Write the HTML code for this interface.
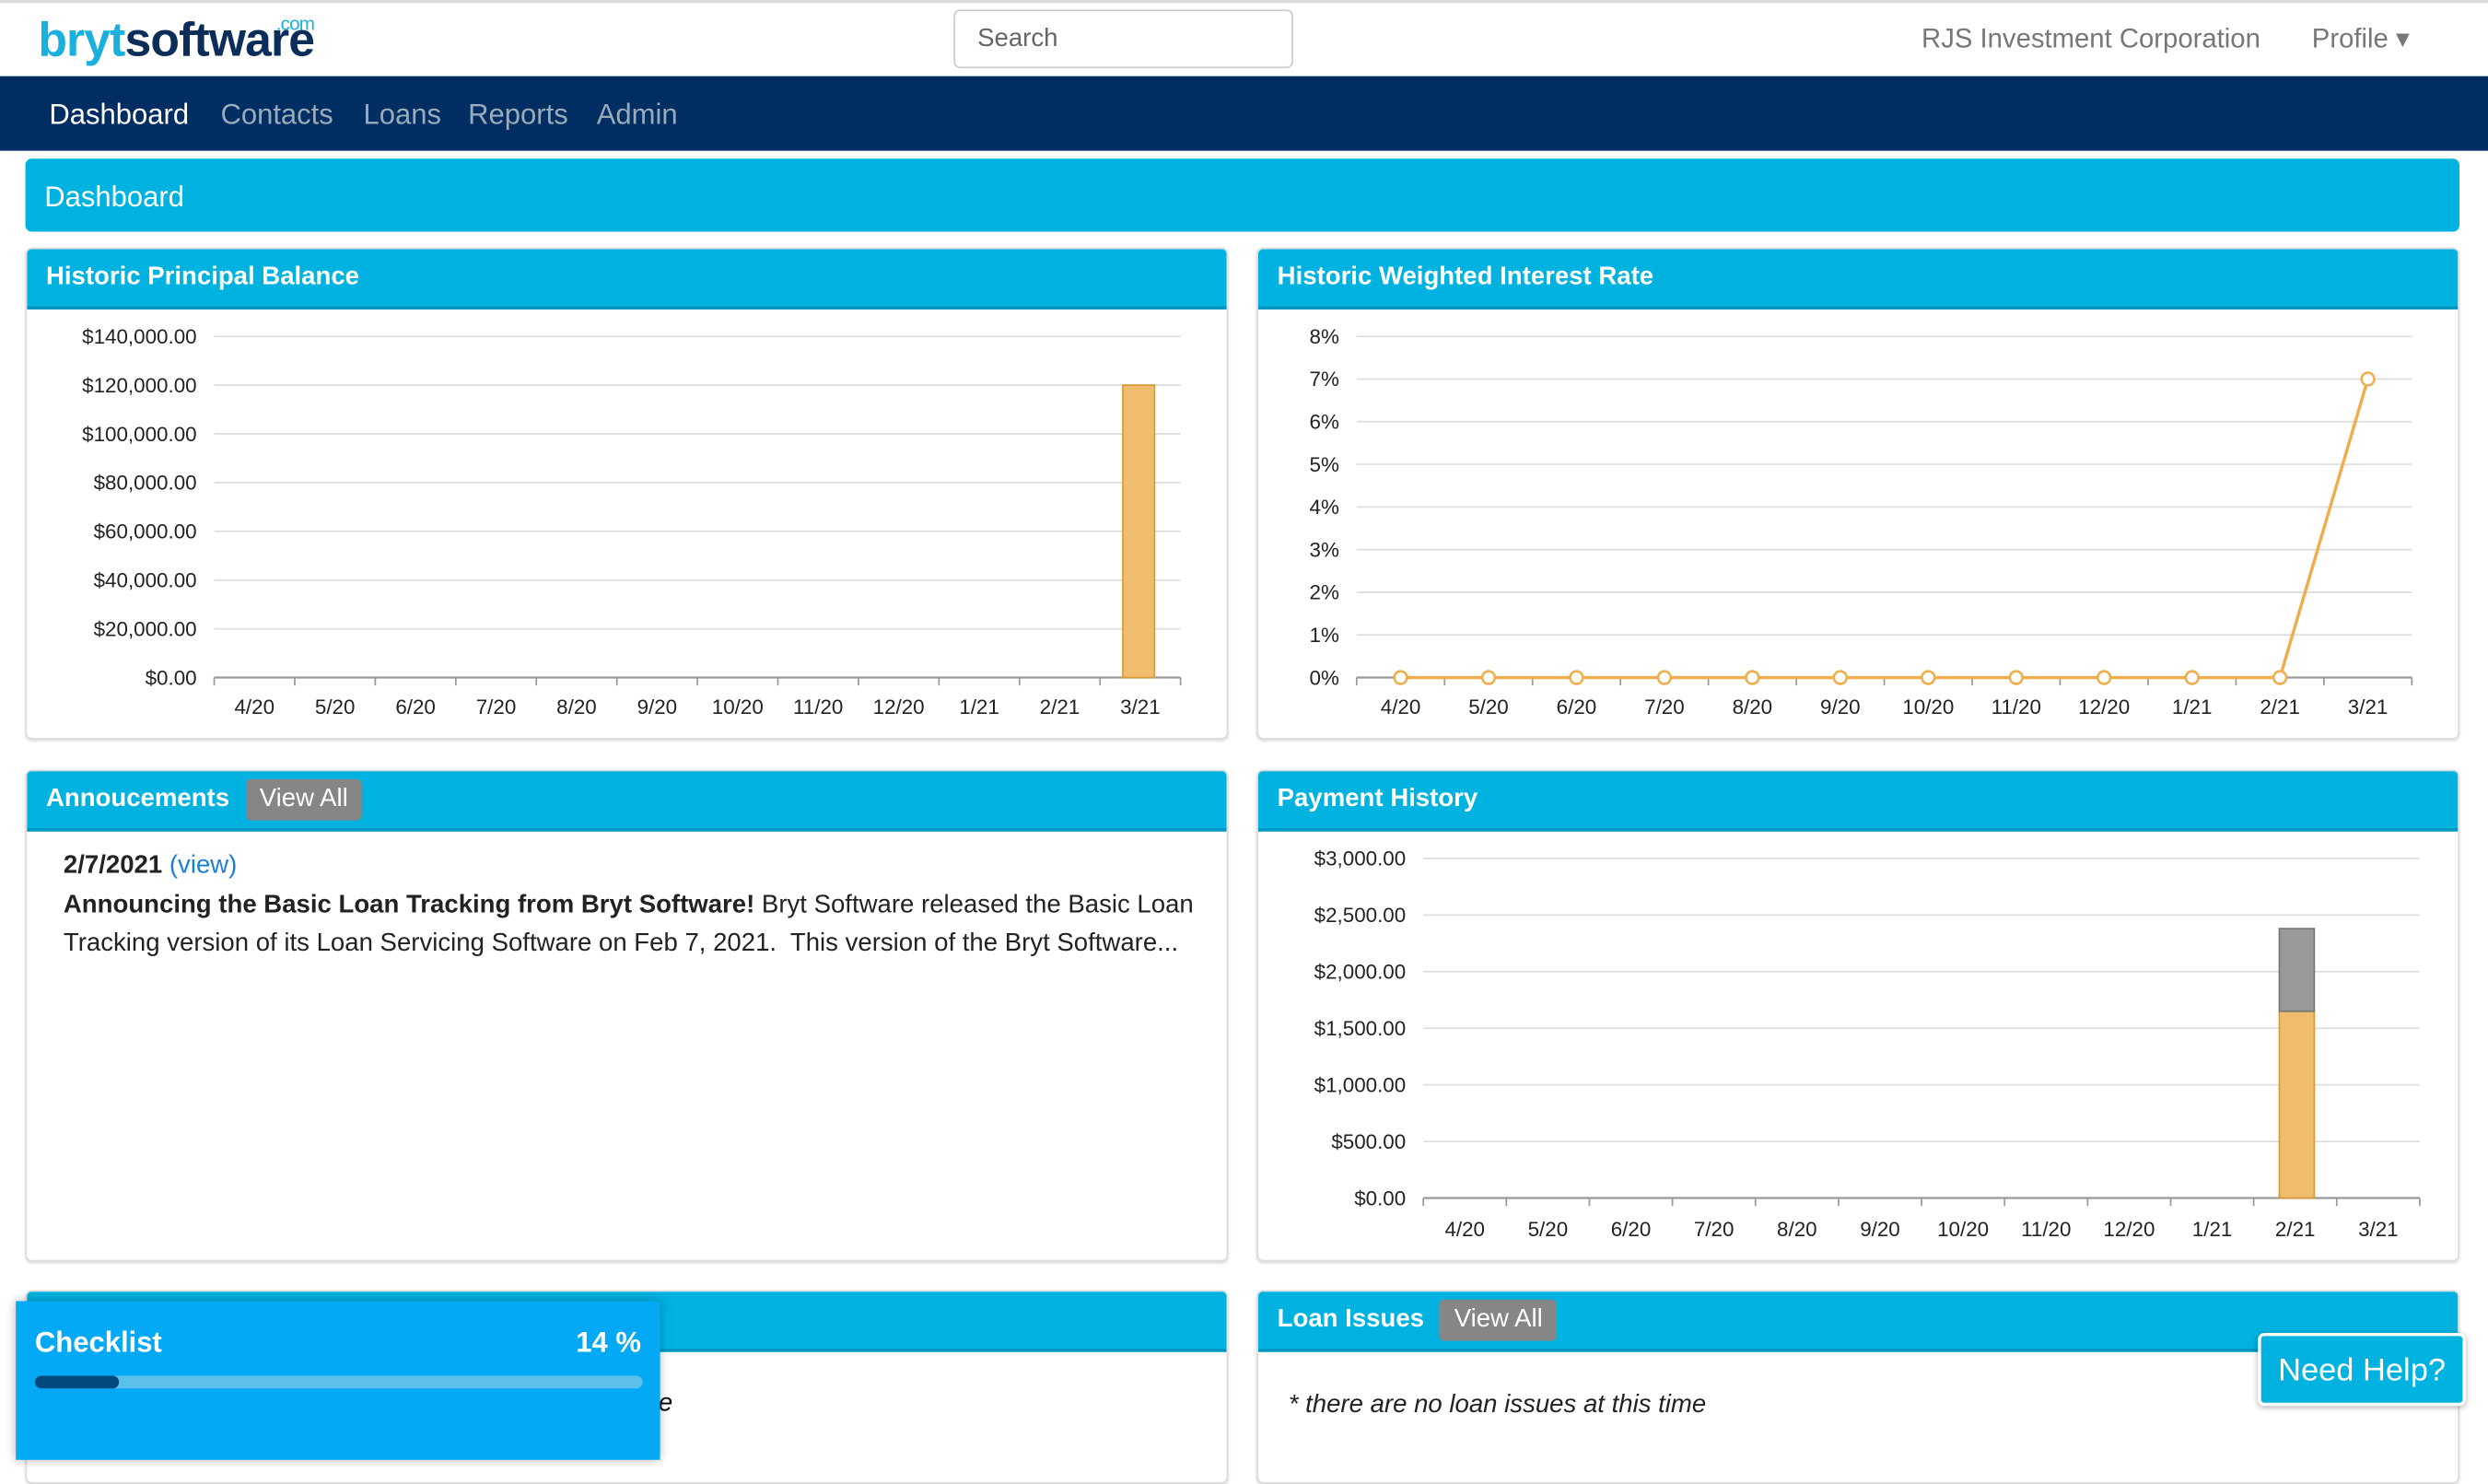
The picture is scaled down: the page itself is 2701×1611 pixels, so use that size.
<!DOCTYPE html>
<html><head><meta charset="utf-8">
<style>
html,body{margin:0;padding:0;width:2701px;height:1539px;overflow:hidden;background:#fff;}
#root{position:absolute;left:0;top:0;width:1568px;height:894px;transform:scale(1.72258);transform-origin:0 0;font-family:"Liberation Sans",sans-serif;}
.abs{position:absolute;}
.panel{position:absolute;background:#fff;border:1px solid #ddd;border-radius:4px;overflow:hidden;box-shadow:0 1px 2px rgba(0,0,0,.15);}
.ph{position:absolute;left:0;top:0;right:0;height:36px;background:#00b2e0;border-bottom:2px solid #0096c0;color:#fff;font-weight:bold;font-size:16px;line-height:36px;padding-left:12px;}
.btn{display:inline-block;background:#868686;color:#fff;font-weight:normal;font-size:16px;padding:0 9px;line-height:26px;border-radius:3px;margin-left:10px;}
svg text{font-family:"Liberation Sans",sans-serif;font-size:13px;fill:#222;}
</style></head><body>
<div id="root">
<div class="abs" style="left:0;top:0;width:1568px;height:2px;background:#ddd"></div>
<div class="abs" style="left:24px;top:10px;font-size:30px;font-weight:bold;letter-spacing:-0.5px;line-height:32px"><span style="color:#1ab0dd">bryt</span><span style="color:#0a2d5a">software</span><span style="position:absolute;left:150px;top:-11px;font-size:12px;color:#1ab0dd;font-weight:normal">.com</span></div>
<div class="abs" style="left:601px;top:6px;width:214px;height:37px;border:1px solid #ccc;border-radius:4px;box-sizing:border-box;color:#666;font-size:16px;line-height:35px;padding-left:14px">Search</div>
<div class="abs" style="left:1211px;top:15px;font-size:17px;color:#777">RJS Investment Corporation</div>
<div class="abs" style="left:1457px;top:15px;font-size:17px;color:#777">Profile ▾</div>
<div class="abs" style="left:0;top:48px;width:1568px;height:47px;background:#002d62"></div>
<div class="abs" style="left:31px;top:62px;font-size:18px;color:#fff">Dashboard</div>
<div class="abs" style="left:139px;top:62px;font-size:18px;color:#9ab">Contacts</div>
<div class="abs" style="left:229px;top:62px;font-size:18px;color:#9ab">Loans</div>
<div class="abs" style="left:295px;top:62px;font-size:18px;color:#9ab">Reports</div>
<div class="abs" style="left:376px;top:62px;font-size:18px;color:#9ab">Admin</div>
<div class="abs" style="left:16px;top:100px;width:1534px;height:46px;background:#00b2e0;border-radius:4px;color:#fff;font-size:18px;line-height:48px;padding-left:12px;box-sizing:border-box">Dashboard</div>

<div class="panel" style="left:16px;top:156px;width:756px;height:308px">
 <div class="ph">Historic Principal Balance</div></div>
<div class="panel" style="left:792px;top:156px;width:756px;height:308px">
 <div class="ph">Historic Weighted Interest Rate</div></div>
<div class="panel" style="left:16px;top:485px;width:756px;height:308px">
 <div class="ph" style="line-height:36px">Annoucements<span class="btn">View All</span></div>
 <div class="abs" style="left:23px;top:48px;width:720px;font-size:16px;line-height:24.5px;color:#222"><b>2/7/2021</b> <span style="color:#1a7fd6">(view)</span><br><b>Announcing the Basic Loan Tracking from Bryt Software!</b> Bryt Software released the Basic Loan Tracking version of its Loan Servicing Software on Feb 7, 2021.&nbsp; This version of the Bryt Software...</div>
</div>
<div class="panel" style="left:792px;top:485px;width:756px;height:308px">
 <div class="ph">Payment History</div></div>
<div class="panel" style="left:16px;top:813px;width:756px;height:120px">
 <div class="ph"></div>
 <div class="abs" style="left:398px;top:62px;font-size:16px;font-style:italic">e</div></div>
<div class="panel" style="left:792px;top:813px;width:756px;height:120px">
 <div class="ph">Loan Issues<span class="btn">View All</span></div>
 <div class="abs" style="left:19px;top:63px;font-size:16px;font-style:italic;color:#222">* there are no loan issues at this time</div></div>

<div class="abs" style="left:10px;top:820px;width:406px;height:100px;background:#03a9f4;box-shadow:0 0 6px rgba(0,0,0,.3)">
 <div class="abs" style="left:12px;top:16px;color:#fff;font-weight:bold;font-size:18px">Checklist</div>
 <div class="abs" style="right:12px;top:16px;color:#fff;font-weight:bold;font-size:18px">14 %</div>
 <div class="abs" style="left:12px;top:47px;width:383px;height:8px;border-radius:4px;background:#5bc0eb"><div style="width:53px;height:8px;border-radius:4px;background:#004a80"></div></div>
</div>
<div class="abs" style="left:1423px;top:840px;width:131px;height:46px;background:#00b2e0;border-radius:4px;border:2px solid #fff;box-shadow:0 1px 4px rgba(0,0,0,.3);color:#fff;font-size:20px;line-height:44px;text-align:center;box-sizing:border-box">Need Help?</div>

<svg class="abs" style="left:0;top:0" width="1568" height="894" id="charts"></svg>
</div>
<script>
const months=["4/20","5/20","6/20","7/20","8/20","9/20","10/20","11/20","12/20","1/21","2/21","3/21"];
const principalValues=[0,0,0,0,0,0,0,0,0,0,0,120000];
const principalTicks=[0,20000,40000,60000,80000,100000,120000,140000];
const rateValues=[0,0,0,0,0,0,0,0,0,0,0,7];
const rateTicks=[0,1,2,3,4,5,6,7,8];
const paymentPrincipal=[0,0,0,0,0,0,0,0,0,0,1650,0];
const paymentInterest=[0,0,0,0,0,0,0,0,0,0,730,0];
const paymentTicks=[0,500,1000,1500,2000,2500,3000];

const svg=document.getElementById('charts');
const NS='http://www.w3.org/2000/svg';
function mk(tag,attrs,name){const e=document.createElementNS(NS,tag);for(const k in attrs)e.setAttribute(k,attrs[k]);


svg.appendChild(e);return e;}
function money(v){return '$'+v.toLocaleString('en-US',{minimumFractionDigits:2});}
function axes(x0,x1,y0,y1,max,ticks,fmt,labelY,pfx){
 const xs=i=>x0+(i+0.5)*(x1-x0)/months.length;
 const ys=v=>y0-(v/max)*(y0-y1);
 ticks.forEach(t=>{mk('line',{x1:x0,x2:x1,y1:ys(t),y2:ys(t),stroke:'#ddd','stroke-width':1},pfx+'-gridline');
  const tx=mk('text',{x:x0-11,y:ys(t)+4.5,'text-anchor':'end'},pfx+'-y-tick');tx.textContent=fmt(t);});
 mk('line',{x1:x0,x2:x1,y1:y0,y2:y0,stroke:'#999','stroke-width':1.3},pfx+'-x-axis');
 for(let i=0;i<=months.length;i++){const x=x0+i*(x1-x0)/months.length;mk('line',{x1:x,x2:x,y1:y0,y2:y0+5,stroke:'#999'},pfx+'-x-tick');}
 months.forEach((m,i)=>{const t=mk('text',{x:xs(i),y:labelY,'text-anchor':'middle'},pfx+'-x-label');t.textContent=m;});
 return {xs,ys,bw:(x1-x0)/months.length};
}
let a=axes(135,744,427,212,140000,principalTicks,money,450,'principal');
principalValues.forEach((v,i)=>{if(v>0)mk('rect',{x:a.xs(i)-11,y:a.ys(v),width:20,height:a.ys(0)-a.ys(v),fill:'#f0bd6f',stroke:'#d99a3a'},'principal-bar');});
let b=axes(855,1520,427,212,8,rateTicks,v=>v+'%',450,'rate');
mk('polyline',{points:rateValues.map((v,i)=>[b.xs(i),b.ys(v)].join(',')).join(' '),fill:'none',stroke:'#f0ad4e','stroke-width':2},'rate-line');
rateValues.forEach((v,i)=>mk('circle',{cx:b.xs(i),cy:b.ys(v),r:4,fill:'#fff',stroke:'#f0ad4e','stroke-width':1.5},'rate-point'));
let c=axes(897,1525,755,541,3000,paymentTicks,money,779,'payment');
paymentPrincipal.forEach((v,i)=>{const w=paymentInterest[i];
 if(v>0)mk('rect',{x:c.xs(i)-10,y:c.ys(v),width:22,height:c.ys(0)-c.ys(v),fill:'#f0bd6f',stroke:'#d99a3a'},'payment-principal-bar');
 if(w>0)mk('rect',{x:c.xs(i)-10,y:c.ys(v+w),width:22,height:c.ys(v)-c.ys(v+w),fill:'#999',stroke:'#777'},'payment-interest-bar');});
</script>
</body></html>
